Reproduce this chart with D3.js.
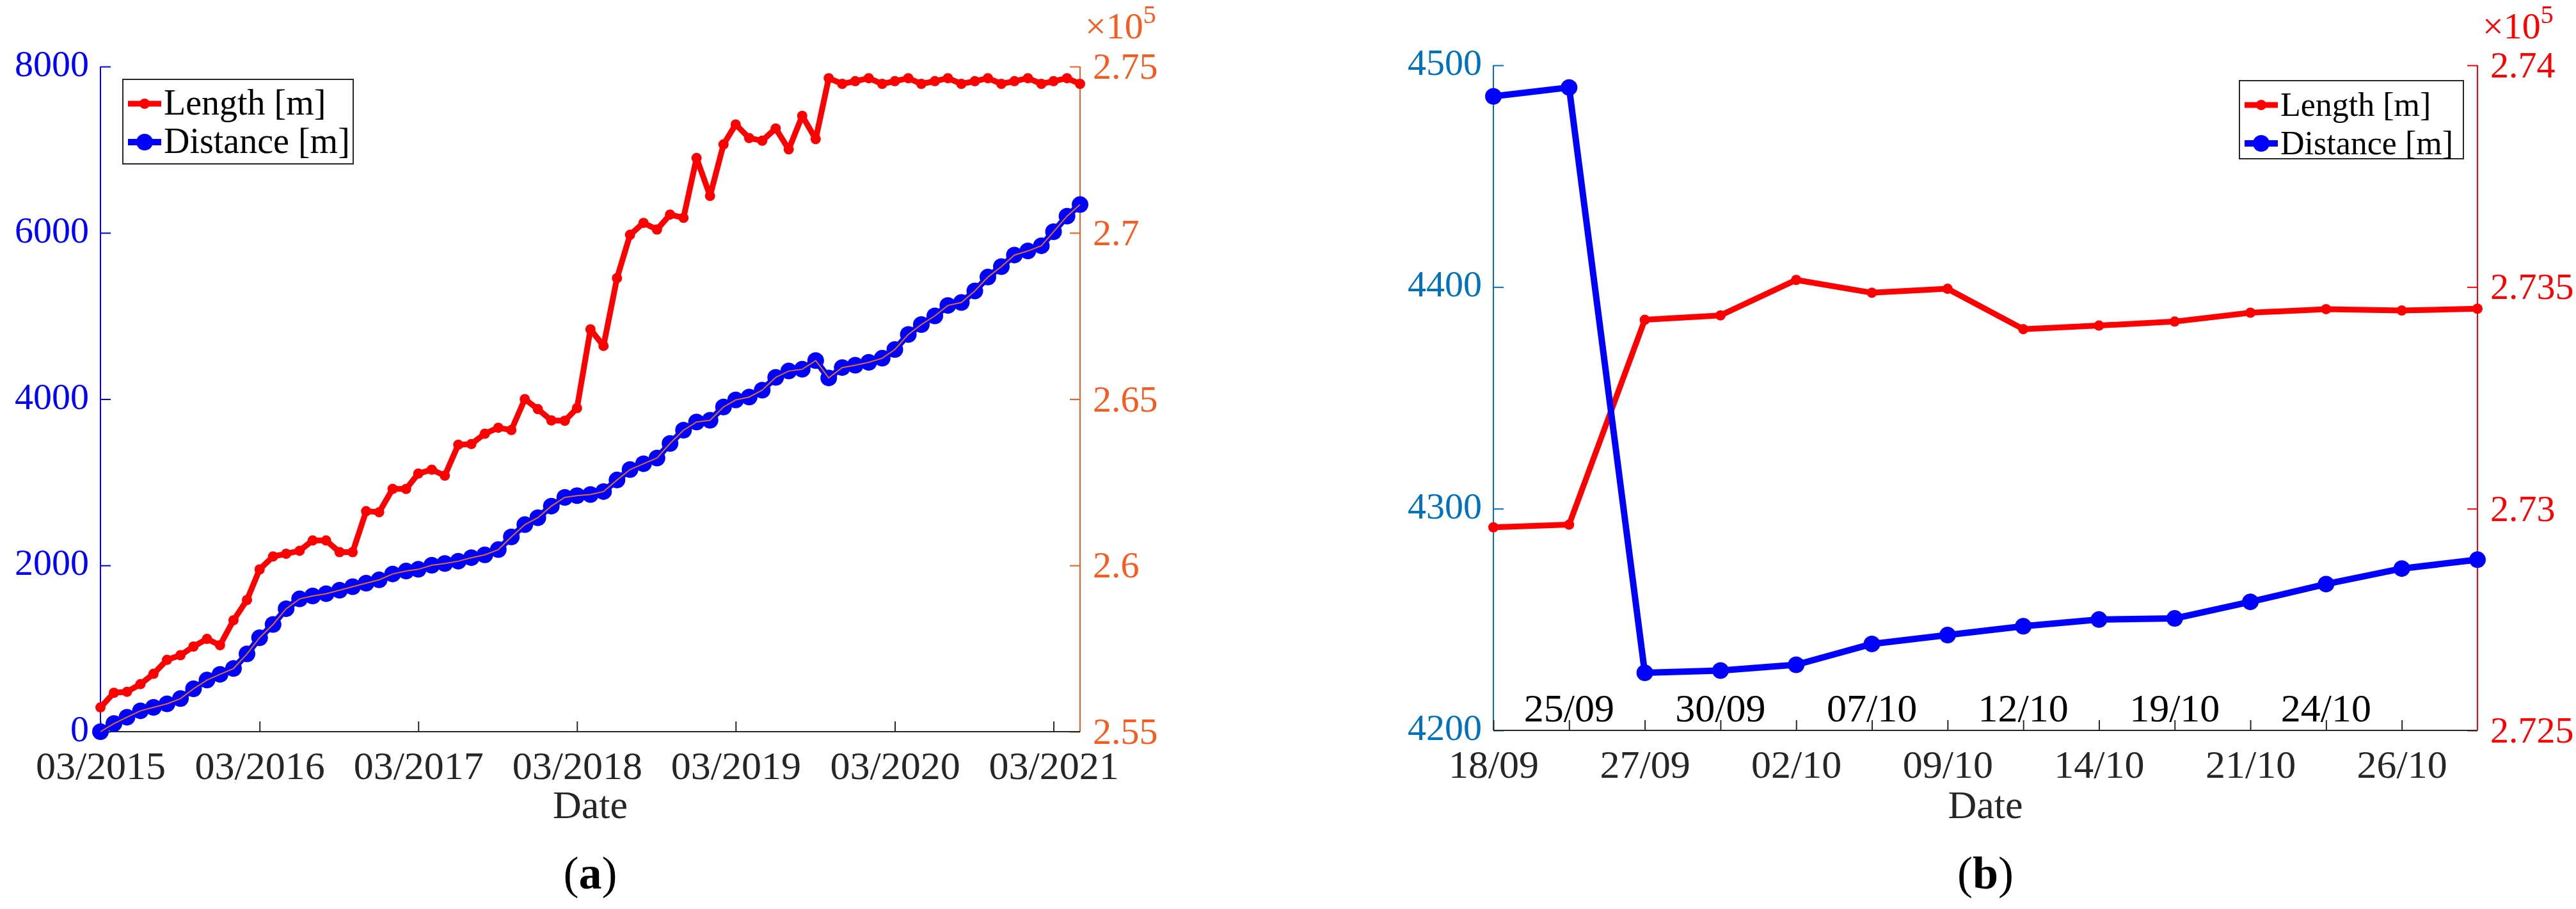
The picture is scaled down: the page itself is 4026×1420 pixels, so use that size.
<!DOCTYPE html>
<html>
<head>
<meta charset="utf-8">
<script src="https://cdn.jsdelivr.net/npm/d3@7"></script>
<style>
  body { margin: 0; background: #fff; }
  svg text { font-family: "Liberation Serif", "Times New Roman", serif !important; }
</style>
</head>
<body>
<svg id="chart" width="4026" height="1420"></svg>
<script>
// ---- panel (a) data: monthly from 03/2015 ----
var startA = new Date(2015, 2, 1);
var lengthA = [2.5573, 2.5617, 2.562, 2.5643, 2.5674, 2.5716, 2.573, 2.5756, 2.5779, 2.576,
  2.5835, 2.5896, 2.5988, 2.6027, 2.6035, 2.6044, 2.6075, 2.6075, 2.604, 2.604,
  2.6163, 2.616, 2.623, 2.623, 2.6276, 2.6288, 2.627, 2.6363, 2.6365, 2.6396,
  2.6414, 2.6407, 2.65, 2.647, 2.6436, 2.6435, 2.6473, 2.671, 2.666, 2.6864,
  2.6994, 2.703, 2.701, 2.7055, 2.7045, 2.7225, 2.7111, 2.7266, 2.7326, 2.7285,
  2.7277, 2.7314, 2.7251, 2.7352, 2.7282, 2.7465, 2.7448, 2.7456, 2.7465, 2.7448,
  2.7456, 2.7465, 2.7448, 2.7456, 2.7465, 2.7448, 2.7456, 2.7465, 2.7448, 2.7456,
  2.7465, 2.7448, 2.7456, 2.7465, 2.7448].map(function(v) { return v * 1e5; });
var distanceA = [0, 98, 174, 251, 293, 335, 398, 516, 621, 690,
  760, 935, 1130, 1290, 1479, 1597, 1632, 1660, 1702, 1744,
  1786, 1827, 1897, 1932, 1953, 2002, 2023, 2051, 2093, 2127,
  2190, 2343, 2490, 2574, 2713, 2818, 2839, 2853, 2888, 3027,
  3153, 3223, 3292, 3467, 3627, 3725, 3746, 3906, 3990, 4025,
  4108, 4262, 4338, 4359, 4464, 4255, 4380, 4408, 4443, 4492,
  4597, 4778, 4897, 5001, 5127, 5162, 5301, 5468, 5594, 5733,
  5782, 5845, 6013, 6201, 6340];
var yearTicksA = ["03/2015", "03/2016", "03/2017", "03/2018", "03/2019", "03/2020", "03/2021"];
var leftTicksA = [0, 2000, 4000, 6000, 8000];
var rightTicksA = [2.55, 2.6, 2.65, 2.7, 2.75];

// ---- panel (b) data ----
var datesB = ["18/09", "25/09", "27/09", "30/09", "02/10", "07/10", "09/10",
  "12/10", "14/10", "19/10", "21/10", "24/10", "26/10", "29/10"];
var distanceB = [4486, 4490, 4226, 4227, 4229.6, 4239, 4243, 4247, 4250, 4250.5, 4258, 4266, 4273, 4277];
var lengthB = [2.72958, 2.72964, 2.73426, 2.73436, 2.73516, 2.73487, 2.73496,
  2.73405, 2.73413, 2.73422, 2.73442, 2.7345, 2.73447, 2.73451].map(function(v) { return v * 1e5; });
var leftTicksB = [4200, 4300, 4400, 4500];
var rightTicksB = [2.725, 2.73, 2.735, 2.74];

var svg = d3.select("#chart");
var FS = 58;

function drawPanel(o) {
  var g = svg.append("g");
  var x = o.x, yL = o.yL, yR = o.yR;
  var L = o.left, R = o.right, T = o.top, B = o.bottom;

  // left axis
  var la = g.append("g").attr("transform", "translate(" + L + ",0)")
    .call(d3.axisLeft(yL).tickValues(o.leftTicks).tickSize(-16).tickPadding(18).tickFormat(d3.format("d")));
  la.select(".domain").attr("stroke", o.leftColor).attr("stroke-width", 2).attr("d", "M0," + B + "V" + T);
  la.selectAll(".tick line").attr("stroke", o.leftColor).attr("stroke-width", 2);
  la.selectAll(".tick text").attr("fill", o.leftColor).attr("font-size", FS).attr("dy", "0.25em");

  // right axis
  var ra = g.append("g").attr("transform", "translate(" + R + ",0)")
    .call(d3.axisRight(yR).tickValues(o.rightTicks.map(function(v) { return v * 1e5; }))
      .tickSize(-16).tickPadding(20).tickFormat(function(d) { return d3.format("")(+(d / 1e5).toFixed(3)); }));
  ra.select(".domain").attr("stroke", o.rightColor).attr("stroke-width", 2).attr("d", "M0," + B + "V" + T);
  ra.selectAll(".tick line").attr("stroke", o.rightColor).attr("stroke-width", 2);
  ra.selectAll(".tick text").attr("fill", o.rightColor).attr("font-size", FS);
  var ex = g.append("text").attr("x", R + 8).attr("y", 60).attr("fill", o.rightColor)
    .attr("font-size", FS);
  ex.append("tspan").text("\u00d710");
  ex.append("tspan").attr("dy", -24).attr("font-size", 40).text("5");

  // bottom axis
  g.append("line").attr("x1", L).attr("x2", R).attr("y1", B).attr("y2", B)
    .attr("stroke", "#262626").attr("stroke-width", 2);
  o.drawXTicks(g);

  g.append("text").attr("x", (L + R) / 2).attr("y", 1278).attr("text-anchor", "middle")
    .attr("font-size", 62).attr("fill", "#262626").text("Date");
  var cap = g.append("text").attr("x", (L + R) / 2).attr("y", 1388).attr("text-anchor", "middle")
    .attr("font-size", 72).attr("fill", "#000");
  cap.append("tspan").text("(");
  cap.append("tspan").attr("font-weight", "bold").text(o.letter);
  cap.append("tspan").text(")");

  var lineL = d3.line().x(function(d, i) { return o.xv(i); }).y(function(d) { return yL(d); });
  var lineR = d3.line().x(function(d, i) { return o.xv(i); }).y(function(d) { return yR(d); });

  // length line (right axis)
  g.append("path").datum(o.length).attr("d", lineR).attr("fill", "none")
    .attr("stroke", "#ff0000").attr("stroke-width", 9).attr("stroke-linejoin", "round");
  g.selectAll(".lm").data(o.length).enter().append("circle")
    .attr("cx", function(d, i) { return o.xv(i); }).attr("cy", function(d) { return yR(d); })
    .attr("r", 8).attr("fill", "#ff0000");

  // distance line (left axis)
  g.append("path").datum(o.distance).attr("d", lineL).attr("fill", "none")
    .attr("stroke", "#0000ff").attr("stroke-width", 10).attr("stroke-linejoin", "round");
  g.selectAll(".dm").data(o.distance).enter().append("circle")
    .attr("cx", function(d, i) { return o.xv(i); }).attr("cy", function(d) { return yL(d); })
    .attr("r", 13).attr("fill", "#0000ff");
  if (o.innerLine) {
    g.append("path").datum(o.distance).attr("d", lineL).attr("fill", "none")
      .attr("stroke", "#e0701a").attr("stroke-width", 2);
  }

  // legend
  var lg = o.legend;
  g.append("rect").attr("x", lg.x).attr("y", lg.y).attr("width", lg.w).attr("height", lg.h)
    .attr("fill", "#fff").attr("stroke", "#262626").attr("stroke-width", 2);
  var items = [["Length [m]", "#ff0000", 8, 9], ["Distance [m]", "#0000ff", 13, 10]];
  items.forEach(function(it, k) {
    var cy = lg.y + 38 + k * 60;
    g.append("line").attr("x1", lg.x + 8).attr("x2", lg.x + 60).attr("y1", cy).attr("y2", cy)
      .attr("stroke", it[1]).attr("stroke-width", it[3]);
    g.append("circle").attr("cx", lg.x + 34).attr("cy", cy).attr("r", it[2]).attr("fill", it[1]);
    g.append("text").attr("x", lg.x + 64).attr("y", cy + 17).attr("font-size", lg.fs)
      .attr("fill", "#000").text(it[0]);
  });
}

// panel (a)
(function() {
  var L = 157, R = 1688, T = 104, B = 1143;
  var endA = d3.timeMonth.offset(startA, lengthA.length - 1);
  var x = d3.scaleTime().domain([startA, endA]).range([L, R]);
  var yL = d3.scaleLinear().domain([0, 8000]).range([B, T]);
  var yR = d3.scaleLinear().domain([255000, 275000]).range([B, T]);
  drawPanel({
    left: L, right: R, top: T, bottom: B, x: x, yL: yL, yR: yR,
    xv: function(i) { return x(d3.timeMonth.offset(startA, i)); },
    leftTicks: leftTicksA, rightTicks: rightTicksA,
    leftColor: "#0000ff", rightColor: "#f95a1e",
    length: lengthA, distance: distanceA, innerLine: true, letter: "a",
    legend: { x: 192, y: 124, w: 360, h: 132, fs: 56 },
    drawXTicks: function(g) {
      var parse = d3.timeParse("%m/%Y");
      var ax = g.append("g").attr("transform", "translate(0," + B + ")")
        .call(d3.axisBottom(x).tickValues(yearTicksA.map(parse)).tickSize(-16).tickPadding(30)
          .tickFormat(d3.timeFormat("%m/%Y")));
      ax.select(".domain").remove();
      ax.selectAll(".tick line").attr("stroke", "#262626").attr("stroke-width", 2);
      ax.selectAll(".tick text").attr("fill", "#262626").attr("font-size", 62);
    }
  });
})();

// panel (b)
(function() {
  var L = 2334, R = 3872, T = 102, B = 1141;
  var x = d3.scalePoint().domain(datesB).range([L, R]);
  var yL = d3.scaleLinear().domain([4200, 4500]).range([B, T]);
  var yR = d3.scaleLinear().domain([272500, 274000]).range([B, T]);
  drawPanel({
    left: L, right: R, top: T, bottom: B, x: x, yL: yL, yR: yR,
    xv: function(i) { return x(datesB[i]); },
    leftTicks: leftTicksB, rightTicks: rightTicksB,
    leftColor: "#0072bd", rightColor: "#ff0000",
    length: lengthB, distance: distanceB, innerLine: false, letter: "b",
    legend: { x: 3500, y: 126, w: 350, h: 122, fs: 52 },
    drawXTicks: function(g) {
      var tickDates = datesB.slice(0, datesB.length - 1);
      var ax = g.append("g").attr("transform", "translate(0," + B + ")")
        .call(d3.axisBottom(x).tickValues(tickDates).tickSize(-16).tickPadding(30)
          .tickFormat(function(d, i) { return i % 2 === 0 ? d : ""; }));
      ax.select(".domain").remove();
      ax.selectAll(".tick line").attr("stroke", "#262626").attr("stroke-width", 2);
      ax.selectAll(".tick text").attr("fill", "#262626").attr("font-size", 62);
      // odd dates sit above the axis
      g.selectAll(".up").data(tickDates.filter(function(d, i) { return i % 2 === 1; })).enter()
        .append("text").attr("x", function(d) { return x(d); }).attr("y", 1127)
        .attr("text-anchor", "middle").attr("font-size", 62).attr("fill", "#000").text(function(d) { return d; });
    }
  });
})();
</script>
</body>
</html>
